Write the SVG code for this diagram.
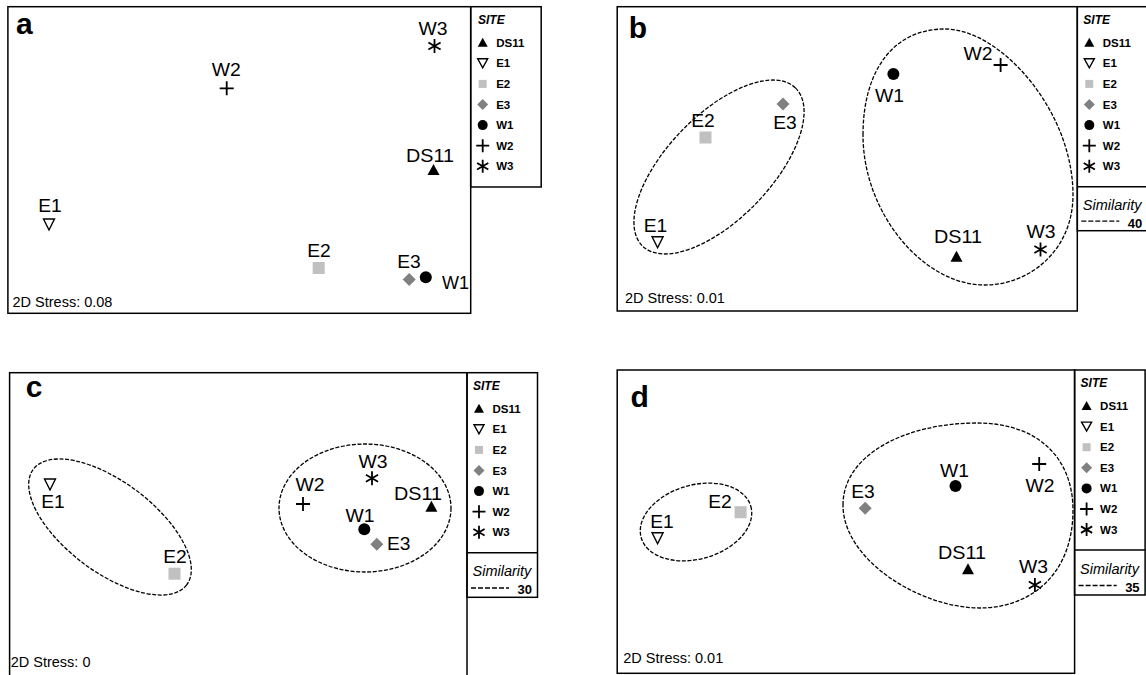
<svg xmlns="http://www.w3.org/2000/svg" xmlns:xlink="http://www.w3.org/1999/xlink" width="1146" height="675" viewBox="0 0 1146 675">
<style>
.frame{fill:none;stroke:#000;stroke-width:1.5}
.sep{stroke:#000;stroke-width:1.5}
.lbl{font-family:"Liberation Sans",Arial,sans-serif;font-size:17.5px;fill:#000}
.mid{text-anchor:middle}
.leg{font-family:"Liberation Sans",Arial,sans-serif;font-size:11.5px;font-weight:bold;fill:#000}
.site{font-family:"Liberation Sans",Arial,sans-serif;font-size:12px;font-weight:bold;font-style:italic;fill:#000}
.sim{font-family:"Liberation Sans",Arial,sans-serif;font-size:14.5px;font-style:italic;fill:#000}
.simv{font-family:"Liberation Sans",Arial,sans-serif;font-size:13px;font-weight:bold;fill:#000;text-anchor:end}
.stress{font-family:"Liberation Sans",Arial,sans-serif;font-size:14.5px;fill:#000}
.pl{font-family:"Liberation Sans",Arial,sans-serif;font-size:30px;font-weight:bold;fill:#000}
.clu{fill:none;stroke:#000;stroke-width:1.3;stroke-dasharray:4 1.6}
.dl{fill:none;stroke:#000;stroke-width:1.3;stroke-dasharray:5 2}
.blk{fill:#000}
.hol{fill:#fff;stroke:#000;stroke-width:1.4}
.lg{fill:#c0c0c0}
.dg{fill:#808080}
.ln{fill:none;stroke:#000;stroke-width:1.8}
</style>
<defs>
<path id="tri" class="blk" d="M0,-6L6,5H-6Z"/>
<path id="itri" class="hol" d="M-5.5,-5H5.5L0,6Z"/>
<rect id="sq" class="lg" x="-6" y="-6" width="12" height="12"/>
<path id="dia" class="dg" d="M0,-6.5L6.5,0L0,6.5L-6.5,0Z"/>
<circle id="circ" class="blk" r="6"/>
<path id="plus" class="ln" d="M-7,0H7M0,-7V7"/>
<path id="ast" class="ln" d="M0,-7V7M-6.1,-3.5L6.1,3.5M-6.1,3.5L6.1,-3.5"/>
<path id="ltri" class="blk" d="M0,-5L5,4H-5Z"/>
<path id="litri" class="hol" d="M-5,-4.5H5L0,4.5Z"/>
<rect id="lsq" class="lg" x="-4" y="-4" width="8" height="8"/>
<path id="ldia" class="dg" d="M0,-5.5L5.5,0L0,5.5L-5.5,0Z"/>
<circle id="lcirc" class="blk" r="5"/>
<path id="lplus" class="ln" d="M-6.5,0H6.5M0,-6.5V6.5"/>
<path id="last" class="ln" d="M0,-6.5V6.5M-5.6,-3.25L5.6,3.25M-5.6,3.25L5.6,-3.25"/>
</defs>
<rect width="1146" height="675" fill="#fff"/>

<!-- Panel a -->
<g id="panel-a">
<rect class="frame" x="7.9" y="6.7" width="462.8" height="306.6"/>
<text class="pl" x="16" y="34.3">a</text>
<text class="stress" x="12.5" y="307">2D Stress: 0.08</text>
<g id="a-W3"><use href="#ast" x="434.5" y="46"/><text class="lbl mid" x="433" y="35" textLength="29" lengthAdjust="spacingAndGlyphs">W3</text></g>
<g id="a-W2"><use href="#plus" x="226.7" y="88.3"/><text class="lbl mid" x="226.2" y="75.7" textLength="29" lengthAdjust="spacingAndGlyphs">W2</text></g>
<g id="a-DS11"><use href="#tri" x="433.5" y="170"/><text class="lbl mid" x="430" y="161.7" textLength="48" lengthAdjust="spacingAndGlyphs">DS11</text></g>
<g id="a-E1"><use href="#itri" x="49" y="224"/><text class="lbl mid" x="50" y="211.7" textLength="23.5" lengthAdjust="spacingAndGlyphs">E1</text></g>
<g id="a-E2"><use href="#sq" x="318.7" y="268"/><text class="lbl mid" x="319" y="256.7" textLength="23.5" lengthAdjust="spacingAndGlyphs">E2</text></g>
<g id="a-E3"><use href="#dia" x="409.2" y="279.5"/><text class="lbl mid" x="409" y="268.3" textLength="23.5" lengthAdjust="spacingAndGlyphs">E3</text></g>
<g id="a-W1"><use href="#circ" x="425.8" y="277.3"/><text class="lbl" x="442" y="289" textLength="27" lengthAdjust="spacingAndGlyphs">W1</text></g>
<g id="legend-a">
<rect class="frame" x="470.7" y="6.7" width="70.5" height="180.3"/>
<text class="site" x="478" y="24.2">SITE</text>
<use href="#ltri" x="482.7" y="42.7"/><text class="leg" x="496.2" y="46.7">DS11</text>
<use href="#litri" x="482.7" y="63.3"/><text class="leg" x="496.2" y="67.3">E1</text>
<use href="#lsq" x="482.7" y="83.9"/><text class="leg" x="496.2" y="87.9">E2</text>
<use href="#ldia" x="482.7" y="104.5"/><text class="leg" x="496.2" y="108.5">E3</text>
<use href="#lcirc" x="482.7" y="125.1"/><text class="leg" x="496.2" y="129.1">W1</text>
<use href="#lplus" x="482.7" y="145.7"/><text class="leg" x="496.2" y="149.7">W2</text>
<use href="#last" x="482.7" y="166.3"/><text class="leg" x="496.2" y="170.3">W3</text>
</g>
</g>

<!-- Panel b -->
<g id="panel-b">
<rect class="frame" x="617.2" y="6.7" width="460.1" height="304.3"/>
<text class="pl" x="628.7" y="38.3">b</text>
<text class="stress" x="625" y="302.5">2D Stress: 0.01</text>
<g id="b-clusters">
<ellipse class="clu" cx="719" cy="167" rx="110" ry="52" transform="rotate(-46 719 167)"/>
<path class="clu" d="M863,135C863,72 892,29 945,29C1000,29 1073,110 1073,195C1073,250 1030,285 985,285C922,285 863,212 863,135Z"/>
</g>
<g id="b-E2"><use href="#sq" x="705.5" y="137.5"/><text class="lbl mid" x="703" y="126.7" textLength="23.5" lengthAdjust="spacingAndGlyphs">E2</text></g>
<g id="b-E3"><use href="#dia" x="783" y="104"/><text class="lbl mid" x="785" y="129.3" textLength="23.5" lengthAdjust="spacingAndGlyphs">E3</text></g>
<g id="b-E1"><use href="#itri" x="657.6" y="241.7"/><text class="lbl mid" x="655.5" y="231.7" textLength="23.5" lengthAdjust="spacingAndGlyphs">E1</text></g>
<g id="b-W1"><use href="#circ" x="893.4" y="74"/><text class="lbl mid" x="889.5" y="101.7" textLength="29" lengthAdjust="spacingAndGlyphs">W1</text></g>
<g id="b-W2"><use href="#plus" x="1000.6" y="65"/><text class="lbl mid" x="978" y="60" textLength="29" lengthAdjust="spacingAndGlyphs">W2</text></g>
<g id="b-DS11"><use href="#tri" x="956.5" y="256.7"/><text class="lbl mid" x="958" y="243.3" textLength="48" lengthAdjust="spacingAndGlyphs">DS11</text></g>
<g id="b-W3"><use href="#ast" x="1040.5" y="249.5"/><text class="lbl mid" x="1041" y="238.3" textLength="29" lengthAdjust="spacingAndGlyphs">W3</text></g>
<g id="legend-b">
<rect class="frame" x="1077.3" y="6.7" width="70.5" height="224"/>
<line class="sep" x1="1077.3" y1="186.7" x2="1147.8" y2="186.7"/>
<text class="site" x="1083.3" y="24.2">SITE</text>
<use href="#ltri" x="1089.3" y="42.7"/><text class="leg" x="1102.8" y="46.7">DS11</text>
<use href="#litri" x="1089.3" y="63.3"/><text class="leg" x="1102.8" y="67.3">E1</text>
<use href="#lsq" x="1089.3" y="83.9"/><text class="leg" x="1102.8" y="87.9">E2</text>
<use href="#ldia" x="1089.3" y="104.5"/><text class="leg" x="1102.8" y="108.5">E3</text>
<use href="#lcirc" x="1089.3" y="125.1"/><text class="leg" x="1102.8" y="129.1">W1</text>
<use href="#lplus" x="1089.3" y="145.7"/><text class="leg" x="1102.8" y="149.7">W2</text>
<use href="#last" x="1089.3" y="166.3"/><text class="leg" x="1102.8" y="170.3">W3</text>
<text class="sim" x="1082.8" y="209.7">Similarity</text>
<line class="dl" x1="1081.3" y1="221.2" x2="1119.3" y2="221.2"/>
<text class="simv" x="1142.3" y="227.5">40</text>
</g>
</g>

<!-- Panel c -->
<g id="panel-c">
<rect class="frame" x="9.6" y="372.7" width="457.4" height="320"/>
<text class="pl" x="25.7" y="396.7">c</text>
<text class="stress" x="10.7" y="667">2D Stress: 0</text>
<g id="c-clusters">
<ellipse class="clu" cx="110" cy="527" rx="96" ry="45" transform="rotate(37 110 527)"/>
<ellipse class="clu" cx="365" cy="508" rx="86" ry="64"/>
</g>
<g id="c-E1"><use href="#itri" x="50" y="484"/><text class="lbl mid" x="53" y="508.3" textLength="23.5" lengthAdjust="spacingAndGlyphs">E1</text></g>
<g id="c-E2"><use href="#sq" x="174.5" y="573.7"/><text class="lbl mid" x="175" y="562.7" textLength="23.5" lengthAdjust="spacingAndGlyphs">E2</text></g>
<g id="c-W3"><use href="#ast" x="372" y="478.3"/><text class="lbl mid" x="373" y="468.3" textLength="29" lengthAdjust="spacingAndGlyphs">W3</text></g>
<g id="c-W2"><use href="#plus" x="303" y="504"/><text class="lbl mid" x="310" y="490.7" textLength="29" lengthAdjust="spacingAndGlyphs">W2</text></g>
<g id="c-DS11"><use href="#tri" x="431.4" y="506.7"/><text class="lbl mid" x="418" y="500" textLength="48" lengthAdjust="spacingAndGlyphs">DS11</text></g>
<g id="c-W1"><use href="#circ" x="364.3" y="529.3"/><text class="lbl mid" x="360" y="521.7" textLength="29" lengthAdjust="spacingAndGlyphs">W1</text></g>
<g id="c-E3"><use href="#dia" x="376.8" y="544.3"/><text class="lbl" x="387" y="550" textLength="23.5" lengthAdjust="spacingAndGlyphs">E3</text></g>
<g id="legend-c">
<rect class="frame" x="467" y="372.7" width="70.5" height="224.6"/>
<line class="sep" x1="467" y1="552.7" x2="537.5" y2="552.7"/>
<text class="site" x="473" y="390">SITE</text>
<use href="#ltri" x="479" y="408.7"/><text class="leg" x="492.5" y="412.7">DS11</text>
<use href="#litri" x="479" y="429.3"/><text class="leg" x="492.5" y="433.3">E1</text>
<use href="#lsq" x="479" y="449.9"/><text class="leg" x="492.5" y="453.9">E2</text>
<use href="#ldia" x="479" y="470.5"/><text class="leg" x="492.5" y="474.5">E3</text>
<use href="#lcirc" x="479" y="491.1"/><text class="leg" x="492.5" y="495.1">W1</text>
<use href="#lplus" x="479" y="511.7"/><text class="leg" x="492.5" y="515.7">W2</text>
<use href="#last" x="479" y="532.3"/><text class="leg" x="492.5" y="536.3">W3</text>
<text class="sim" x="472.5" y="576.2">Similarity</text>
<line class="dl" x1="471" y1="588" x2="509" y2="588"/>
<text class="simv" x="532" y="594">30</text>
</g>
</g>

<!-- Panel d -->
<g id="panel-d">
<rect class="frame" x="617.2" y="370" width="457.4" height="303.3"/>
<text class="pl" x="630.5" y="407.3">d</text>
<text class="stress" x="623.3" y="662.5">2D Stress: 0.01</text>
<g id="d-clusters">
<ellipse class="clu" cx="696" cy="522" rx="57" ry="37" transform="rotate(-16 696 522)"/>
<path class="clu" d="M843,505C843,455 905,423 977,423C1040,423 1073,460 1073,510C1073,575 1030,608 980,608C920,608 843,560 843,505Z"/>
</g>
<g id="d-E1"><use href="#itri" x="657.6" y="537.7"/><text class="lbl mid" x="662" y="528.3" textLength="23.5" lengthAdjust="spacingAndGlyphs">E1</text></g>
<g id="d-E2"><use href="#sq" x="740.6" y="512.2"/><text class="lbl mid" x="720" y="507.7" textLength="23.5" lengthAdjust="spacingAndGlyphs">E2</text></g>
<g id="d-E3"><use href="#dia" x="865.2" y="508.3"/><text class="lbl mid" x="863" y="497.7" textLength="23.5" lengthAdjust="spacingAndGlyphs">E3</text></g>
<g id="d-W1"><use href="#circ" x="955.5" y="486"/><text class="lbl mid" x="954.5" y="477.3" textLength="29" lengthAdjust="spacingAndGlyphs">W1</text></g>
<g id="d-W2"><use href="#plus" x="1039.2" y="464"/><text class="lbl mid" x="1040" y="491.7" textLength="29" lengthAdjust="spacingAndGlyphs">W2</text></g>
<g id="d-DS11"><use href="#tri" x="968" y="569.3"/><text class="lbl mid" x="962" y="559.3" textLength="48" lengthAdjust="spacingAndGlyphs">DS11</text></g>
<g id="d-W3"><use href="#ast" x="1034.9" y="585"/><text class="lbl mid" x="1033.6" y="573.3" textLength="29" lengthAdjust="spacingAndGlyphs">W3</text></g>
<g id="legend-d">
<rect class="frame" x="1074.6" y="370" width="70.5" height="225"/>
<line class="sep" x1="1074.6" y1="550" x2="1145.1" y2="550"/>
<text class="site" x="1080.6" y="387.3">SITE</text>
<use href="#ltri" x="1086.6" y="406"/><text class="leg" x="1100.1" y="410">DS11</text>
<use href="#litri" x="1086.6" y="426.6"/><text class="leg" x="1100.1" y="430.6">E1</text>
<use href="#lsq" x="1086.6" y="447.2"/><text class="leg" x="1100.1" y="451.2">E2</text>
<use href="#ldia" x="1086.6" y="467.8"/><text class="leg" x="1100.1" y="471.8">E3</text>
<use href="#lcirc" x="1086.6" y="488.4"/><text class="leg" x="1100.1" y="492.4">W1</text>
<use href="#lplus" x="1086.6" y="509"/><text class="leg" x="1100.1" y="513">W2</text>
<use href="#last" x="1086.6" y="529.6"/><text class="leg" x="1100.1" y="533.6">W3</text>
<text class="sim" x="1080.1" y="573.5">Similarity</text>
<line class="dl" x1="1078.6" y1="585.5" x2="1116.6" y2="585.5"/>
<text class="simv" x="1139.6" y="591.5">35</text>
</g>
</g>
</svg>
